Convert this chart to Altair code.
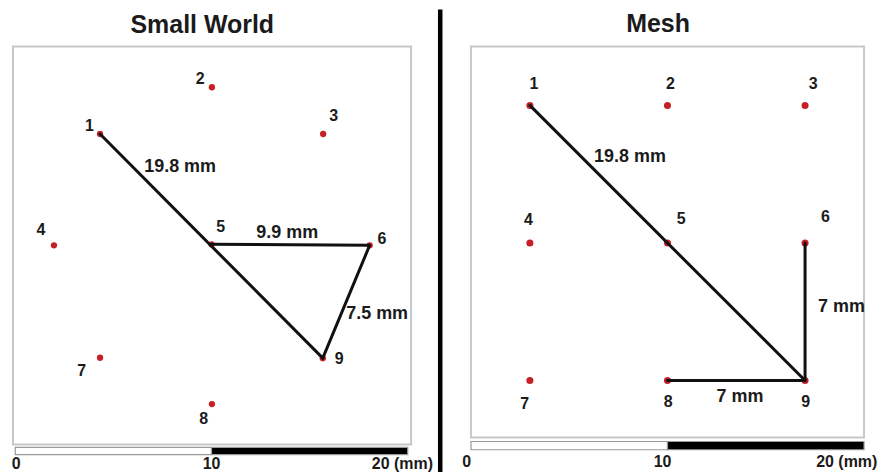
import altair as alt
import pandas as pd

FONT = "Liberation Sans"
TXT = "#1b1b1b"
RED = "#c62026"

# ---------------- data (millimetres; y measured downward from box top) -------------
node_ids = ["1", "2", "3", "4", "5", "6", "7", "8", "9"]

# Small World
sw_x = [4.32, 10.02, 15.69, 1.97, 10.0, 18.06, 4.32, 10.02, 15.67]
sw_y = [4.46, 2.08, 4.46, 10.13, 10.08, 10.13, 15.86, 18.22, 15.88]
sw_label_dx = [-0.54, -0.60, 0.54, -0.66, 0.47, 0.63, -0.94, -0.42, 0.84]
sw_label_dy = [-0.43, -0.43, -0.93, -0.79, -0.86, -0.31, 0.66, 0.74, 0.05]
sw_edges = [("1", "9"), ("5", "6"), ("6", "9")]
sw_dist_text = ["19.8 mm", "9.9 mm", "7.5 mm"]
sw_dist_x = [8.40, 13.86, 18.44]
sw_dist_y = [6.13, 9.49, 13.61]

# Mesh
mesh_x = [3, 10, 17, 3, 10, 17, 3, 10, 17]
mesh_y = [3, 3, 3, 10, 10, 10, 17, 17, 17]
mesh_label_dx = [0.20, 0.15, 0.41, -0.07, 0.70, 1.03, -0.26, 0.03, 0.03]
mesh_label_dy = [-1.07, -1.09, -1.09, -1.17, -1.22, -1.30, 1.18, 1.10, 1.07]
mesh_edges = [("1", "9"), ("9", "6"), ("8", "9")]
mesh_dist_text = ["19.8 mm", "7 mm", "7 mm"]
mesh_dist_x = [8.09, 18.85, 13.69]
mesh_dist_y = [5.65, 13.26, 17.82]

# scale bar (mm)
bar_start = [0, 10]
bar_end = [10, 20]
bar_fill = ["white", "black"]
scale_labels = ["0", "10", "20 (mm)"]
sw_scale_label_x = [0.05, 10.0, 19.73]
mesh_scale_label_x = [-0.22, 9.75, 19.12]


def panel(title, xs, ys, ldx, ldy, edges, dtext, dx_, dy_, xdom, ydom, w, h,
          bar_y, lab_x, lab_y, title_x, dot_size, divider_x=None, div_y=None):
    sx = alt.Scale(domain=xdom, nice=False, zero=False)
    sy = alt.Scale(domain=ydom, nice=False, zero=False, reverse=True)

    def X(f):
        return alt.X(f, type="quantitative", scale=sx, axis=None)

    def Y(f):
        return alt.Y(f, type="quantitative", scale=sy, axis=None)

    pos = {i: (x, y) for i, x, y in zip(node_ids, xs, ys)}
    nodes = pd.DataFrame({
        "id": node_ids, "x": xs, "y": ys,
        "lx": [x + d for x, d in zip(xs, ldx)],
        "ly": [y + d for y, d in zip(ys, ldy)],
    })
    edf = pd.DataFrame({
        "x": [pos[a][0] for a, b in edges], "y": [pos[a][1] for a, b in edges],
        "x2": [pos[b][0] for a, b in edges], "y2": [pos[b][1] for a, b in edges],
    })
    ddf = pd.DataFrame({"t": dtext, "x": dx_, "y": dy_})
    bars = pd.DataFrame({"x": bar_start, "x2": bar_end, "fill": bar_fill,
                         "y": [bar_y[0]] * 2, "y2": [bar_y[1]] * 2})
    sl = pd.DataFrame({"t": scale_labels, "x": lab_x, "y": [lab_y] * 3})
    tdf = pd.DataFrame({"t": [title], "x": [title_x], "y": [-0.71]})

    layers = []
    if divider_x is not None:
        layers.append(
            alt.Chart(pd.DataFrame({"x": [divider_x[0]], "x2": [divider_x[1]],
                                    "y": [div_y[0]], "y2": [div_y[1]]}))
            .mark_rect(color="black")
            .encode(x=X("x"), x2="x2", y=Y("y"), y2="y2")
        )
    layers += [
        alt.Chart(bars).mark_rect(stroke="#9a9a9a", strokeWidth=1.2).encode(
            x=X("x"), x2="x2", y=Y("y"), y2="y2",
            fill=alt.Fill("fill:N", scale=None)),
        alt.Chart(nodes).mark_circle(color=RED, size=dot_size, opacity=1).encode(
            x=X("x"), y=Y("y")),
        alt.Chart(edf).mark_rule(color="#111111", strokeWidth=3, strokeCap="round").encode(
            x=X("x"), y=Y("y"), x2="x2", y2="y2"),
        alt.Chart(nodes).mark_text(font=FONT, fontSize=16, fontWeight="bold", color=TXT,
                                   align="center", baseline="middle").encode(
            x=X("lx"), y=Y("ly"), text="id:N"),
        alt.Chart(ddf).mark_text(font=FONT, fontSize=18, fontWeight="bold", color=TXT,
                                 align="center", baseline="middle").encode(
            x=X("x"), y=Y("y"), text="t:N"),
        alt.Chart(sl).mark_text(font=FONT, fontSize=16, fontWeight="bold", color=TXT,
                                align="center", baseline="middle").encode(
            x=X("x"), y=Y("y"), text="t:N"),
        alt.Chart(tdf).mark_text(font=FONT, fontSize=25, fontWeight="bold", color=TXT,
                                 align="center", baseline="alphabetic").encode(
            x=X("x"), y=Y("y"), text="t:N"),
    ]
    return alt.layer(*layers).properties(width=w, height=h)


left = panel("Small World", sw_x, sw_y, sw_label_dx, sw_label_dy, sw_edges,
             sw_dist_text, sw_dist_x, sw_dist_y,
             [-0.117, 20.17], [0, 20.28], 399, 399,
             [20.42, 20.79], sw_scale_label_x, 21.25, 9.53, 40,
             divider_x=[21.54, 21.77], div_y=[-1.88, 21.71])

right = panel("Mesh", mesh_x, mesh_y, mesh_label_dx, mesh_label_dy, mesh_edges,
              mesh_dist_text, mesh_dist_x, mesh_dist_y,
              [0, 20], [0, 19.9], 394, 392,
              [20.10, 20.52], mesh_scale_label_x, 21.12, 9.52, 50)

chart = (
    alt.hconcat(left, right, spacing=60, bounds="flush")
    .properties(padding={"left": 2, "top": 0, "right": 0, "bottom": 0},
                background="white")
    .configure_view(stroke="#c8c8c8", strokeWidth=2)
)

chart.save("out.html", embed_options={"renderer": "svg", "actions": False})
